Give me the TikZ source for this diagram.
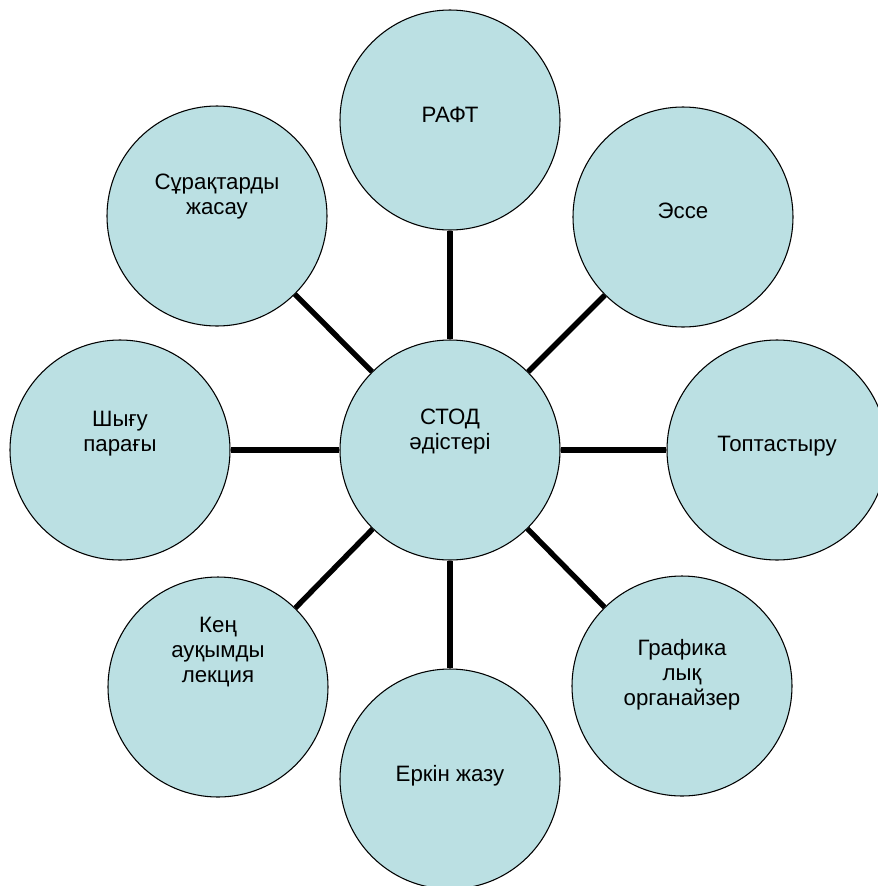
\documentclass[tikz,border=0pt]{standalone}
\usepackage{fontspec}
\setmainfont{Liberation Sans}
\definecolor{bubblefill}{RGB}{187,224,227}
\tikzset{
  bubble/.style={circle,draw,line width=.8pt,fill=bubblefill,minimum size=165pt,inner sep=0pt},
  bubbletext/.style={align=center,font=\fontsize{16.7}{18.75}\selectfont},
  spoke/.style={line width=4pt}
}
\begin{document}
\begin{tikzpicture}[x=.75pt,y=-.75pt]
\useasboundingbox (0,0) rectangle (878,886);
% circles
\node[bubble] (stod) at (450,450) {};
\node[bubble] (raft) at (450,120) {};
\node[bubble] (esse) at (683,217) {};
\node[bubble] (topt) at (777,450) {};
\node[bubble] (graf) at (682,686) {};
\node[bubble] (erkin) at (450,779) {};
\node[bubble] (ken) at (218,687) {};
\node[bubble] (shygu) at (120,450) {};
\node[bubble] (surak) at (217,216) {};
% spokes
\foreach \n in {raft,esse,topt,graf,erkin,ken,shygu,surak}
  \draw[spoke] (stod) -- (\n);
% texts
\node[bubbletext] (stod-t) at (450,432) {СТОД\\әдістері};
\node[bubbletext] (raft-t) at (450,115) {РАФТ};
\node[bubbletext] (esse-t) at (683,211) {Эссе};
\node[bubbletext] (topt-t) at (777,446) {Топтастыру};
\node[bubbletext] (graf-t) at (682,675) {Графика\\лық\\органайзер};
\node[bubbletext] (erkin-t) at (450,776) {Еркін жазу};
\node[bubbletext] (ken-t) at (218,652) {Кең\\ауқымды\\лекция};
\node[bubbletext] (shygu-t) at (120,434) {Шығу\\парағы};
\node[bubbletext] (surak-t) at (217,197) {Сұрақтарды\\жасау};
\end{tikzpicture}
\end{document}
